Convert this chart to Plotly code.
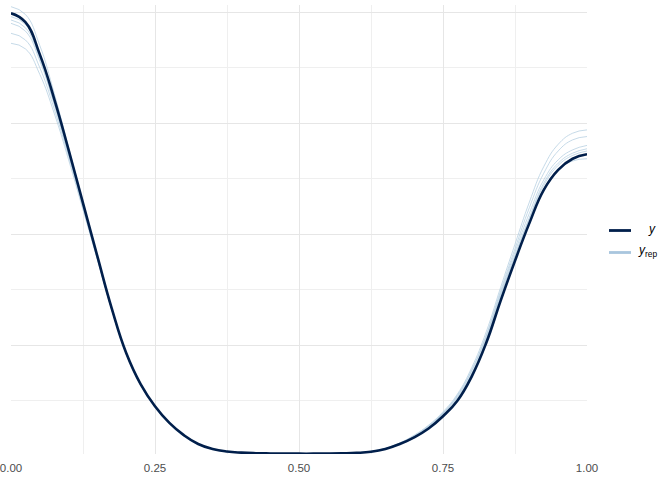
import plotly.graph_objects as go

# ---------------- data ----------------
x_grid = [round(i * 0.025, 3) for i in range(41)]

y_obs = [3.99, 3.91, 3.62, 3.22, 2.76, 2.28, 1.80, 1.33, 0.93, 0.65,
         0.45, 0.30, 0.19, 0.11, 0.065, 0.042, 0.032, 0.027, 0.025, 0.024,
         0.023, 0.023, 0.024, 0.026, 0.030, 0.040, 0.065, 0.11, 0.17, 0.25,
         0.36, 0.50, 0.72, 1.02, 1.40, 1.76, 2.10, 2.40, 2.58, 2.68, 2.72]

yrep_1 = [4.05, 3.98, 3.70, 3.27, 2.78, 2.28, 1.79, 1.32, 0.92, 0.64,
          0.44, 0.29, 0.18, 0.105, 0.062, 0.040, 0.031, 0.026, 0.024, 0.023,
          0.023, 0.023, 0.024, 0.026, 0.031, 0.042, 0.068, 0.115, 0.18, 0.27,
          0.39, 0.54, 0.77, 1.08, 1.47, 1.84, 2.19, 2.49, 2.67, 2.76, 2.80]
yrep_2 = [3.96, 3.89, 3.60, 3.19, 2.73, 2.26, 1.79, 1.33, 0.93, 0.65,
          0.45, 0.30, 0.19, 0.11, 0.065, 0.042, 0.032, 0.027, 0.025, 0.024,
          0.023, 0.023, 0.024, 0.027, 0.032, 0.045, 0.072, 0.12, 0.19, 0.28,
          0.40, 0.56, 0.80, 1.12, 1.52, 1.91, 2.29, 2.61, 2.81, 2.91, 2.94]
yrep_3 = [3.93, 3.86, 3.58, 3.18, 2.73, 2.26, 1.79, 1.33, 0.93, 0.65,
          0.45, 0.30, 0.19, 0.11, 0.065, 0.042, 0.032, 0.027, 0.025, 0.024,
          0.023, 0.023, 0.024, 0.026, 0.031, 0.043, 0.070, 0.118, 0.185, 0.275,
          0.39, 0.55, 0.78, 1.09, 1.49, 1.87, 2.24, 2.55, 2.75, 2.85, 2.88]
yrep_4 = [3.90, 3.83, 3.56, 3.17, 2.72, 2.25, 1.78, 1.32, 0.93, 0.65,
          0.45, 0.30, 0.19, 0.11, 0.065, 0.042, 0.032, 0.027, 0.025, 0.024,
          0.023, 0.023, 0.024, 0.026, 0.031, 0.042, 0.068, 0.113, 0.178, 0.265,
          0.38, 0.53, 0.75, 1.06, 1.45, 1.81, 2.15, 2.46, 2.64, 2.73, 2.77]
yrep_5 = [3.81, 3.75, 3.50, 3.13, 2.70, 2.24, 1.78, 1.32, 0.93, 0.65,
          0.45, 0.30, 0.19, 0.11, 0.065, 0.042, 0.032, 0.027, 0.025, 0.024,
          0.023, 0.023, 0.024, 0.026, 0.031, 0.042, 0.067, 0.112, 0.176, 0.26,
          0.37, 0.52, 0.74, 1.05, 1.44, 1.80, 2.14, 2.44, 2.62, 2.71, 2.75]
yrep_6 = [3.72, 3.67, 3.44, 3.09, 2.67, 2.22, 1.77, 1.32, 0.93, 0.65,
          0.45, 0.30, 0.19, 0.11, 0.065, 0.042, 0.032, 0.027, 0.025, 0.024,
          0.023, 0.023, 0.024, 0.026, 0.030, 0.041, 0.066, 0.11, 0.173, 0.255,
          0.36, 0.50, 0.73, 1.04, 1.42, 1.78, 2.11, 2.41, 2.58, 2.66, 2.68]
yrep_list = [yrep_1, yrep_2, yrep_3, yrep_4, yrep_5, yrep_6]

x_ticks = [0, 0.25, 0.5, 0.75, 1.0]
x_tick_labels = ["0.00", "0.25", "0.50", "0.75", "1.00"]

# ---------------- figure ----------------
fig = go.Figure()

for yr in yrep_list:
    fig.add_trace(go.Scatter(
        x=x_grid, y=yr, mode="lines",
        line=dict(color="rgba(179,205,224,0.75)", width=1, shape="spline", smoothing=1.3),
        showlegend=False, hoverinfo="skip"))

fig.add_trace(go.Scatter(
    x=x_grid, y=y_obs, mode="lines",
    line=dict(color="#011f4b", width=2.6, shape="spline", smoothing=1.3),
    showlegend=False))

# manual legend (paper coordinates)
def px_x(p):
    return (p - 11) / 576.0

def px_y(p):
    return (454 - p) / 449.0

fig.add_shape(type="line", xref="paper", yref="paper",
              x0=px_x(609), x1=px_x(631), y0=px_y(230.5), y1=px_y(230.5),
              line=dict(color="#011f4b", width=2.8))
fig.add_shape(type="line", xref="paper", yref="paper",
              x0=px_x(609), x1=px_x(631), y0=px_y(252.5), y1=px_y(252.5),
              line=dict(color="#a9c6de", width=2.8))
fig.add_annotation(xref="paper", yref="paper", x=px_x(652), y=px_y(229),
                   text="<i>y</i>", showarrow=False, xanchor="center", yanchor="middle",
                   font=dict(size=12, color="#000000", family="Liberation Sans, Arial, sans-serif"))
fig.add_annotation(xref="paper", yref="paper", x=px_x(636), y=px_y(251),
                   text="<i>y</i><sub>rep</sub>", showarrow=False, xanchor="left", yanchor="middle",
                   font=dict(size=12, color="#000000", family="Liberation Sans, Arial, sans-serif"))

fig.update_layout(
    width=672, height=480,
    margin=dict(l=11, r=85, t=5, b=26, autoexpand=False),
    paper_bgcolor="white", plot_bgcolor="white",
    showlegend=False,
    font=dict(family="Liberation Sans, Arial, sans-serif"),
)
fig.update_xaxes(
    range=[0, 1], tickvals=x_ticks, ticktext=x_tick_labels,
    showgrid=True, gridcolor="#e6e6e6", gridwidth=1.3,
    minor=dict(dtick=0.125, tick0=0, showgrid=True, gridcolor="#efefef", gridwidth=0.7),
    zeroline=False, showline=False, ticks="", automargin=False,
    ticklabelstandoff=5, ticklabeloverflow="allow",
    tickfont=dict(size=11.5, color="#4d4d4d"),
)
fig.update_yaxes(
    range=[0.02, 4.065], tick0=0, dtick=1,
    showgrid=True, gridcolor="#e6e6e6", gridwidth=1.3,
    minor=dict(dtick=0.5, tick0=0, showgrid=True, gridcolor="#efefef", gridwidth=0.7),
    showticklabels=False, zeroline=False, showline=False, ticks="", automargin=False,
)

fig.write_html("out.html",
               config={"displayModeBar": False},
               post_script="document.body.style.margin='0px';document.body.style.overflow='hidden';")
